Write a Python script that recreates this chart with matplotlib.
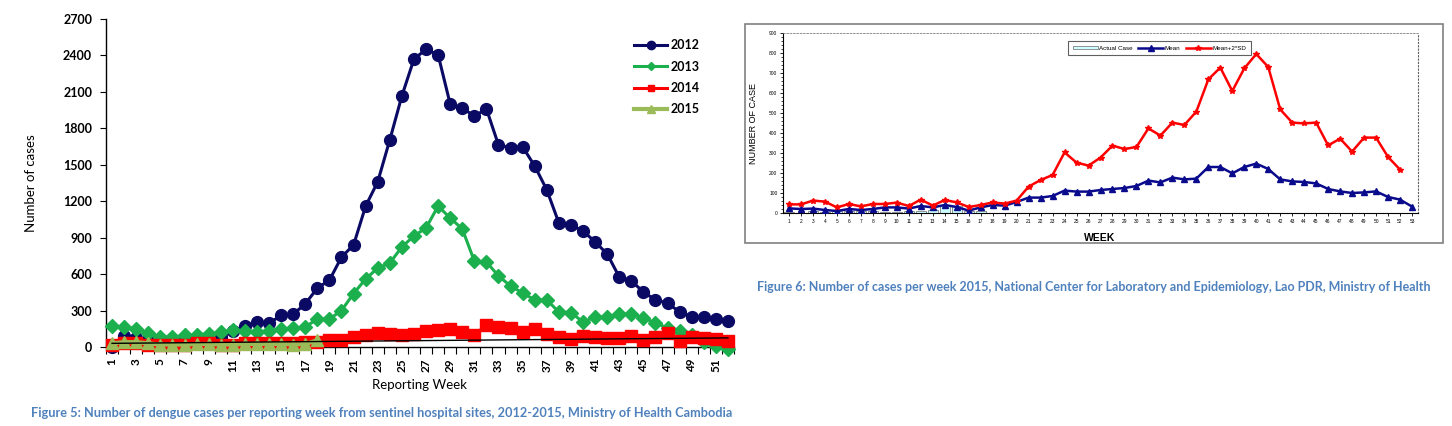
import numpy as np
import matplotlib
matplotlib.use("Agg")
import matplotlib.pyplot as plt
from matplotlib.lines import Line2D
from matplotlib.patches import Rectangle

matplotlib.rcParams["font.family"] = ["Lato", "DejaVu Sans"]

# ---- Figure 5: Cambodia sentinel sites, weekly dengue cases ----
weeks_kh = list(range(1, 53))
cases_2012 = [0, 90, 70, 60, 50, 50, 55, 60, 70, 80, 130, 175, 205, 195, 260, 270, 355, 485,
              550, 740, 840, 1160, 1360, 1705, 2067, 2370, 2450, 2405, 2000, 1968, 1900, 1960,
              1663, 1640, 1647, 1490, 1293, 1021, 1005, 955, 865, 766, 576, 544, 453, 387,
              362, 288, 250, 248, 231, 214]
cases_2013 = [170, 165, 148, 115, 85, 80, 95, 100, 110, 120, 140, 130, 125, 130, 150, 155, 165,
              230, 230, 300, 440, 560, 650, 691, 824, 914, 980, 1160, 1062, 972, 708, 700,
              585, 502, 445, 387, 387, 288, 283, 206, 247, 247, 272, 272, 239, 198, 157, 132,
              99, 41, 8, -15]
cases_2014 = [20, 30, 30, 20, 20, 20, 20, 30, 30, 20, 20, 30, 30, 30, 30, 30, 40, 45, 55, 60, 80,
              99, 112, 110, 99, 105, 130, 140, 150, 124, 99, 181, 162, 156, 124, 152, 107, 82,
              66, 90, 80, 74, 74, 88, 58, 80, 115, 50, 82, 74, 66, 50]
weeks_2015 = list(range(1, 19))
cases_2015 = [30, 40, 40, 30, 20, 20, 20, 25, 25, 20, 20, 25, 25, 25, 25, 20, 25, 55]
trend_weeks = [1, 52]
trend_values = [30, 75]

# ---- Figure 6: Lao PDR weekly cases 2015 ----
weeks_la = list(range(1, 54))
actual_weeks = list(range(1, 18))
actual_cases = [3, 2, 8, 6, 12, 12, 12, 12, 5, 5, 8, 12, 15, 40, 35, 10, 10]
mean_cases = [23, 20, 22, 15, 10, 20, 15, 20, 28, 28, 22, 35, 28, 40, 30, 12, 28, 40, 37, 55,
              77, 77, 85, 112, 107, 107, 115, 120, 125, 135, 162, 153, 177, 168, 172, 230, 230,
              198, 230, 247, 220, 168, 158, 155, 148, 120, 108, 100, 103, 108, 80, 67, 32]
mean_2sd = [43, 43, 62, 57, 28, 45, 33, 45, 45, 52, 35, 67, 37, 65, 53, 30, 40, 53, 47, 62,
            132, 165, 190, 303, 252, 237, 277, 337, 320, 330, 423, 387, 452, 440, 507, 668,
            727, 610, 723, 795, 730, 518, 452, 448, 452, 338, 372, 307, 377, 377, 280, 217]

W, H = 1452, 426
fig = plt.figure(figsize=(W / 100, H / 100), dpi=100)


def box(l, t, r, b):
    return [l / W, 1 - b / H, (r - l) / W, (b - t) / H]


# ---------- left chart ----------
ax = fig.add_axes(box(106, 19, 734, 347))
navy, green, red, olive = "#0A0A64", "#1BAF4E", "#FF0000", "#9BBB59"
ax.plot(weeks_kh, cases_2012, color=navy, lw=2.2, marker="o", ms=8.5, clip_on=False, zorder=3)
ax.plot(weeks_kh, cases_2013, color=green, lw=2.2, marker="D", ms=7.5, clip_on=False, zorder=4)
ax.plot(weeks_kh, cases_2014, color=red, lw=2.2, marker="s", ms=8, clip_on=False, zorder=5)
ax.plot(weeks_2015, cases_2015, color=olive, lw=3, marker="^", ms=8, clip_on=False, zorder=6)
ax.plot(trend_weeks, trend_values, color="black", lw=1, zorder=7)

ax.set_xlim(0.5, 52.5)
ax.set_ylim(0, 2700)
ax.set_yticks(range(0, 2701, 300))
ax.set_xticks(range(1, 53, 2))
ax.set_xticks(np.arange(0.5, 53, 1), minor=True)
ax.tick_params(axis="x", which="major", length=0, pad=8, labelrotation=90, labelsize=8.5)
ax.tick_params(axis="x", which="minor", length=5, width=0.8, direction="out")
ax.tick_params(axis="y", length=4, width=0.8, labelsize=9, pad=6)
for lbl in ax.get_xticklabels() + ax.get_yticklabels():
    lbl.set_fontweight("bold")
for s in ["top", "right"]:
    ax.spines[s].set_visible(False)
ax.spines["left"].set_linewidth(1)
ax.spines["bottom"].set_linewidth(1)
ax.set_xlabel("Reporting Week", fontsize=9.5, labelpad=5)
ax.set_ylabel("Number of cases", fontsize=9.5, labelpad=19)

handles = [
    Line2D([], [], color=navy, lw=2.2, marker="o", ms=6),
    Line2D([], [], color=green, lw=2.2, marker="D", ms=4.5),
    Line2D([], [], color=red, lw=2.2, marker="s", ms=5),
    Line2D([], [], color=olive, lw=3, marker="^", ms=6),
]
leg = ax.legend(handles, ["2012", "2013", "2014", "2015"], loc="upper left",
                bbox_to_anchor=(628 / W, 1 - 33 / H), bbox_transform=fig.transFigure,
                frameon=False, fontsize=9, handlelength=2.6, handletextpad=0.3,
                labelspacing=0.75, borderpad=0)
for t in leg.get_texts():
    t.set_fontweight("bold")

fig.text(31 / W, 1 - 413 / H,
         "Figure 5: Number of dengue cases per reporting week from sentinel hospital sites, "
         "2012-2015, Ministry of Health Cambodia",
         color="#4F81BD", fontsize=9.15, fontweight="bold", va="center")

# ---------- right chart ----------
fig.patches.append(Rectangle((745 / W, 1 - 243 / H), 698 / W, 219 / H,
                             transform=fig.transFigure, fill=False,
                             edgecolor="#808080", lw=1.2))
ax2 = fig.add_axes(box(783, 33, 1418, 213))
bars = ax2.bar(actual_weeks, actual_cases, width=0.85, color="#CCFFFF", edgecolor="#808080",
               lw=0.6, label="Actual Case", zorder=2)
mean_line, = ax2.plot(weeks_la, mean_cases, color="#0A0A8C", lw=1.8, marker="^", ms=4,
                      label="Mean", zorder=3)
sd_line, = ax2.plot(weeks_la[:len(mean_2sd)], mean_2sd, color=red, lw=1.8, marker="*", ms=4,
                    label="Mean+2*SD", zorder=4)
ax2.set_xlim(0.5, 53.5)
ax2.set_ylim(0, 900)
ax2.set_xticks(weeks_la)
ax2.set_yticks(range(0, 901, 100))
ax2.set_yticks(range(0, 901, 20), minor=True)
ax2.tick_params(axis="both", labelsize=3.5, length=2, width=0.6, pad=2,
                labelfontfamily="Liberation Sans")
ax2.tick_params(axis="y", which="minor", length=1.2, width=0.5)
ax2.spines["top"].set_linestyle((0, (2, 2)))
ax2.spines["top"].set_color("#808080")
ax2.spines["top"].set_linewidth(0.6)
ax2.spines["right"].set_linestyle((0, (1, 2)))
ax2.spines["right"].set_color("#606060")
ax2.spines["right"].set_linewidth(0.8)
ax2.set_xlabel("WEEK", fontsize=7.5, fontweight="bold", family="Liberation Sans")
ax2.xaxis.set_label_coords((1100 - 783) / 635, -(233 - 213) / 180)
ax2.set_ylabel("NUMBER OF CASE", fontsize=6.5, family="Liberation Sans", labelpad=8)
leg2 = ax2.legend([bars, mean_line, sd_line], ["Actual Case", "Mean", "Mean+2*SD"],
                  loc="upper left", bbox_to_anchor=(1065 / W, 1 - 38 / H),
                  bbox_transform=fig.transFigure, ncol=3,
                  prop={"family": "Liberation Sans", "size": 4.5},
                  fancybox=False, edgecolor="#606060", framealpha=1,
                  handlelength=4, handleheight=0.5, columnspacing=0.8,
                  handletextpad=0.3, borderpad=0.7)
leg2.get_frame().set_linewidth(0.8)

fig.text(757 / W, 1 - 287 / H,
         "Figure 6: Number of cases per week 2015, National Center for Laboratory and "
         "Epidemiology, Lao PDR, Ministry of Health",
         color="#4F81BD", fontsize=9.0, fontweight="bold", va="center")

fig.savefig("out.png", dpi=100)
